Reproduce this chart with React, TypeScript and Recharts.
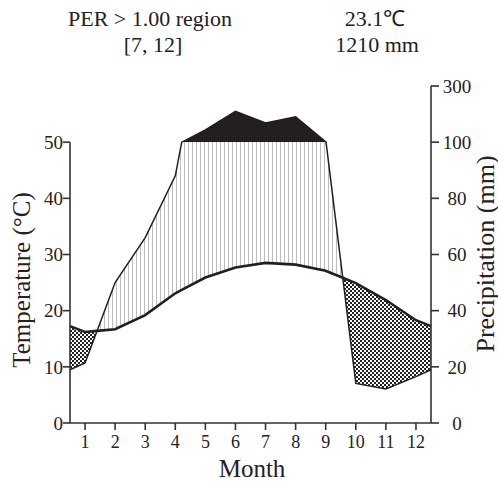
import React from 'react';
import { ComposedChart, Area, Line, XAxis, YAxis, ReferenceLine } from 'recharts';

const months = [1, 2, 3, 4, 5, 6, 7, 8, 9, 10, 11, 12];
const temperature = [16.2, 16.7, 19.2, 23.1, 25.9, 27.7, 28.5, 28.2, 27.1, 24.9, 21.9, 18.3];
const precipitation = [21.4, 50, 66, 88, 144, 210, 168, 190, 101, 14.1, 12.1, 16.5];

const tempTicks = [0, 10, 20, 30, 40, 50];
const precipTicks = [0, 20, 40, 60, 80, 100, 120];
const precipTickLabels = ['0', '20', '40', '60', '80', '100', '300'];

const INK = '#231f20';
const AXIS = '#333';
const FONT = "'Liberation Serif', 'Times New Roman', serif";

// mm -> temperature units: 2 mm per degree up to 100 mm, 20 mm per degree above
const toScale = (p: number) => (p <= 100 ? p / 2 : 50 + (p - 100) / 20);

type Pt = { x: number; t: number; p: number };

function buildRows() {
  const n = months.length;
  // Dec/Jan wrap round to the plot edges
  const edgeT = (temperature[0] + temperature[n - 1]) / 2;
  const edgeP = (precipitation[0] + precipitation[n - 1]) / 2;
  const base: Pt[] = [
    { x: months[0] - 0.5, t: edgeT, p: edgeP },
    ...months.map((m, i) => ({ x: m, t: temperature[i], p: precipitation[i] })),
    { x: months[n - 1] + 0.5, t: edgeT, p: edgeP },
  ];
  const pts: Pt[] = [];
  for (let i = 0; i < base.length; i++) {
    const a = base[i];
    pts.push(a);
    const b = base[i + 1];
    if (!b) break;
    const cuts: number[] = [];
    // rain curve meets temperature curve
    const da = a.p / 2 - a.t;
    const db = b.p / 2 - b.t;
    if (da * db < 0) cuts.push(da / (da - db));
    // rain passes 100 mm, where the scale changes
    if ((a.p - 100) * (b.p - 100) < 0) cuts.push((100 - a.p) / (b.p - a.p));
    cuts
      .sort((u, v) => u - v)
      .forEach((f) =>
        pts.push({ x: a.x + f * (b.x - a.x), t: a.t + f * (b.t - a.t), p: a.p + f * (b.p - a.p) })
      );
  }
  const eps = 1e-6;
  return pts.map((r) => {
    const pd = toScale(r.p);
    return {
      x: r.x,
      t: r.t,
      pd,
      axisP: pd * 2, // same curve on the right-hand (mm) axis
      humid: pd >= r.t - eps ? [r.t, Math.min(pd, 50)] : null,
      arid: pd <= r.t + eps ? [pd, r.t] : null,
      wet: r.p >= 100 - eps ? [50, pd] : null,
    };
  });
}

const rows = buildRows();

const renderRightTick = (props: any) => {
  const { x, y, payload, index } = props;
  return (
    <text x={x + 18} y={y} dy="0.355em" textAnchor="middle" fontSize={19} fill="#222" fontFamily={FONT}>
      {precipTickLabels[index] ?? payload.value}
    </text>
  );
};

export default function App() {
  return (
    <div style={{ position: 'absolute', left: 0, top: 0, width: 498, height: 481, background: '#fff', fontFamily: FONT }}>
      <svg width={0} height={0} style={{ position: 'absolute' }}>
        <defs>
          <pattern id="hatch" width="4" height="4" patternUnits="userSpaceOnUse">
            <rect width="4" height="4" fill="#fff" />
            <rect x="0" y="0" width="1" height="4" fill="#bcbcbc" />
          </pattern>
          <pattern id="checker" width="4" height="4" patternUnits="userSpaceOnUse">
            <rect width="4" height="4" fill="#fff" />
            <rect x="0" y="0" width="2" height="2" fill={INK} />
            <rect x="2" y="2" width="2" height="2" fill={INK} />
          </pattern>
        </defs>
      </svg>

      <ComposedChart width={498} height={481} data={rows} margin={{ top: 86, right: 22, bottom: 28, left: 10 }}>
        <XAxis
          type="number"
          dataKey="x"
          domain={[0.5, 12.5]}
          ticks={months}
          interval={0}
          height={30}
          tickSize={7}
          tickMargin={5}
          axisLine={{ stroke: AXIS, strokeWidth: 1.6 }}
          tickLine={{ stroke: AXIS, strokeWidth: 1.6 }}
          tick={{ fontSize: 18, fill: '#222', fontFamily: FONT }}
        />
        <YAxis
          yAxisId="t"
          domain={[0, 60]}
          ticks={tempTicks}
          interval={0}
          width={60}
          tickSize={7}
          tickMargin={0}
          axisLine={false}
          tickLine={{ stroke: AXIS, strokeWidth: 1.6 }}
          tick={{ fontSize: 19, fill: '#222', fontFamily: FONT }}
        />
        <YAxis
          yAxisId="p"
          orientation="right"
          domain={[0, 120]}
          allowDataOverflow
          ticks={precipTicks}
          interval={0}
          width={45}
          tickSize={8}
          tickMargin={0}
          axisLine={{ stroke: AXIS, strokeWidth: 1.6 }}
          tickLine={{ stroke: AXIS, strokeWidth: 1.6 }}
          tick={renderRightTick}
        />

        <Area yAxisId="t" type="linear" dataKey="wet" fill={INK} fillOpacity={1} stroke="none" dot={false} activeDot={false} isAnimationActive={false} />
        <Area yAxisId="t" type="linear" dataKey="humid" fill="url(#hatch)" fillOpacity={1} stroke="none" dot={false} activeDot={false} isAnimationActive={false} />
        <Area yAxisId="t" type="linear" dataKey="arid" fill="url(#checker)" fillOpacity={1} stroke="none" dot={false} activeDot={false} isAnimationActive={false} />

        <Line yAxisId="p" type="linear" dataKey="axisP" stroke="none" dot={false} activeDot={false} isAnimationActive={false} />
        <Line yAxisId="t" type="linear" dataKey="pd" stroke={INK} strokeWidth={1.5} dot={false} activeDot={false} isAnimationActive={false} />
        <Line yAxisId="t" type="linear" dataKey="t" stroke={INK} strokeWidth={2.6} dot={false} activeDot={false} isAnimationActive={false} />

        <ReferenceLine yAxisId="t" segment={[{ x: 0.5, y: 0 }, { x: 0.5, y: 50 }]} stroke={AXIS} strokeWidth={1.6} ifOverflow="visible" />
      </ComposedChart>

      <svg width={498} height={481} style={{ position: 'absolute', left: 0, top: 0, pointerEvents: 'none' }}>
        <g fontFamily={FONT} fill="#222">
          <text x={150} y={26} fontSize={22} textAnchor="middle">PER &gt; 1.00 region</text>
          <text x={153} y={52} fontSize={22} textAnchor="middle">[7, 12]</text>
          <text x={375} y={26} fontSize={22} textAnchor="middle">23.1℃</text>
          <text x={377} y={52} fontSize={22} textAnchor="middle">1210 mm</text>
          <text x={252} y={477} fontSize={25} textAnchor="middle">Month</text>
          <text x={21} y={280} fontSize={25} textAnchor="middle" dominantBaseline="central" transform="rotate(-90 21 280)">
            Temperature (°C)
          </text>
          <text x={485} y={254} fontSize={26} textAnchor="middle" dominantBaseline="central" transform="rotate(-90 485 254)">
            Precipitation (mm)
          </text>
        </g>
      </svg>
    </div>
  );
}
